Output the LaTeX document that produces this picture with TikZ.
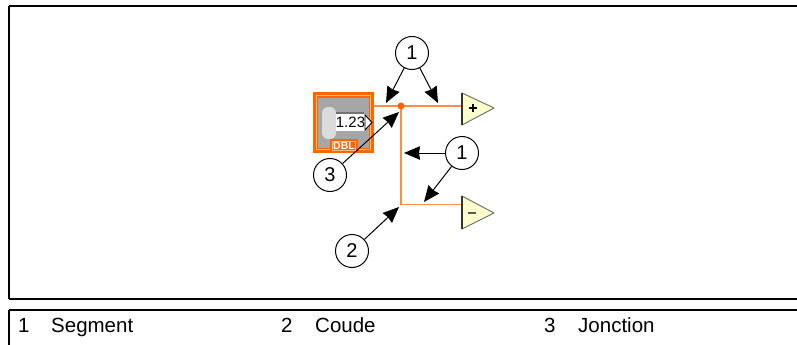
\documentclass[tikz,border=0pt]{standalone}
\usepackage{fontspec}
\setmainfont{Liberation Sans}
\usetikzlibrary{arrows.meta}
\definecolor{wire}{RGB}{255,140,70}
\definecolor{wired}{RGB}{255,102,0}
\definecolor{wirel}{RGB}{255,190,140}
\definecolor{tri}{RGB}{255,255,204}
\tikzset{
 x=1pt,y=-1pt,
 frame/.style={draw=black,line width=1.8pt},
 callout/.style={circle,draw=black,fill=white,line width=1pt,minimum size=33pt,inner sep=0pt,font=\fontsize{20}{20}\selectfont},
 lead/.style={draw=black,line width=1pt,-{Stealth[length=16pt,width=13.5pt,inset=1pt]}},
 wireline/.style={draw=wire,line width=1.9pt},
 legend/.style={anchor=base west,inner sep=0pt,font=\fontsize{20.5}{20.5}\selectfont},
 term/.style={fill=tri,draw=black!55,line width=1pt,line join=round},
 termedge/.style={draw=black!80,line width=1.5pt}
}
\begin{document}
\begin{tikzpicture}
\useasboundingbox (0,0) rectangle (797,345);
\draw[frame] (9,6) -- (799,6) (9,6) -- (9,299) (9,299) -- (799,299);
\draw[frame] (9,310) -- (799,310) (9,310) -- (9,347);
\coordinate (jn) at (401,106);
\coordinate (bend) at (401,204.5);
% wires
\draw[wireline] (373,106) -- (462,106);
\draw[wireline] (jn) -- (bend) -- (462,204.5);
\fill[wired] (jn) circle (3.5);
% terminal icons
\draw[term] (462,93) -- (494,108) -- (462,125) -- cycle;
\draw[termedge] (462,93) -- (462,125);
\draw[black,line width=1.7pt] (469,108) -- (477,108) (473,104) -- (473,112);
\draw[term] (462,196) -- (494,213) -- (462,229) -- cycle;
\draw[termedge] (462,196) -- (462,229);
\draw[black!65,line width=1.7pt] (468,213) -- (476,213);
% DBL control
\fill[wired] (313,91.5) rectangle (374,153);
\draw[wirel,line width=1pt] (316.5,95.5) rectangle (370.5,149.5);
\fill[black!35] (318,98) rectangle (368.5,148);
\fill[black!14,rounded corners=6pt] (322,107) rectangle (336,139);
\fill[black!55] (336,112) rectangle (364,114);
\fill[white] (336,114) rectangle (365,131);
\node[inner sep=0pt,font=\fontsize{15}{15}\selectfont] (val) at (350.5,122.5) {1.23};
\draw[black,fill=white,line width=0.9pt] (365,115) -- (372,122.5) -- (365,130) -- cycle;
\fill[wired] (330,139) rectangle (358,153);
\fill[wirel] (332,141) rectangle (356,151);
\fill[wired] (333,142) rectangle (355,150);
\node[inner sep=0pt,text=white,font=\bfseries\fontsize{10.5}{10.5}\selectfont] (dbl) at (344,146) {DBL};
% callouts
\node[callout] (c1a) at (412,53) {1};
\node[callout] (c1b) at (462,153) {1};
\node[callout] (c2) at (352,251) {2};
\node[callout] (c3) at (330,175) {3};
\coordinate (a1) at (386,103);
\coordinate (a2) at (438,103);
\coordinate (a3) at (399,112);
\coordinate (a4) at (404,153);
\coordinate (a5) at (424,202);
\coordinate (a6) at (399,207);
\draw[lead] (c1a) -- (a1);
\draw[lead] (c1a) -- (a2);
\draw[lead] (c3) -- (a3);
\draw[lead] (c1b) -- (a4);
\draw[lead] (c1b) -- (a5);
\draw[lead] (c2) -- (a6);
% legend
\node[legend] (l1) at (18,332) {1};
\node[legend] (t1) at (51,332) {Segment};
\node[legend] (l2) at (281,332) {2};
\node[legend] (t2) at (315,332) {Coude};
\node[legend] (l3) at (544,332) {3};
\node[legend] (t3) at (578,332) {Jonction};
\end{tikzpicture}
\end{document}
